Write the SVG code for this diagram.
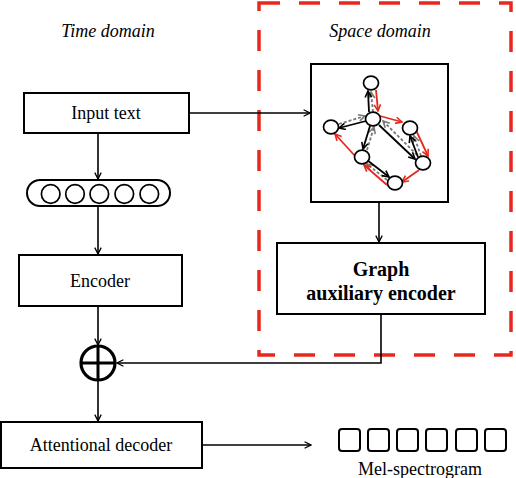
<svg xmlns="http://www.w3.org/2000/svg" width="516" height="478" viewBox="0 0 516 478">
<defs>
<marker id="ab" viewBox="0 0 10 10" refX="9" refY="5" markerWidth="8" markerHeight="8" markerUnits="userSpaceOnUse" orient="auto"><path d="M1,1 L9,5 L1,9" fill="none" stroke="#000" stroke-width="1.6"/></marker>
<marker id="gb" viewBox="0 0 10 10" refX="9" refY="5" markerWidth="8" markerHeight="8" markerUnits="userSpaceOnUse" orient="auto"><path d="M1,1 L9,5 L1,9" fill="none" stroke="#000" stroke-width="2"/></marker>
<marker id="gr" viewBox="0 0 10 10" refX="9" refY="5" markerWidth="8" markerHeight="8" markerUnits="userSpaceOnUse" orient="auto"><path d="M1,1 L9,5 L1,9" fill="none" stroke="#e8281c" stroke-width="2"/></marker>
<marker id="gg" viewBox="0 0 10 10" refX="9" refY="5" markerWidth="8" markerHeight="8" markerUnits="userSpaceOnUse" orient="auto"><path d="M1,1 L9,5 L1,9" fill="none" stroke="#777" stroke-width="2"/></marker>
</defs>
<style>
.box{fill:#fff;stroke:#000;stroke-width:2}
.t{font-family:"Liberation Serif","Times New Roman",serif;font-size:18px;fill:#000;text-anchor:middle}
.it{font-style:italic}
.b{font-weight:bold;font-size:20px}
.con{fill:none;stroke:#000;stroke-width:1.6}
.gn{fill:#fff;stroke:#000;stroke-width:1.7}
.eb{stroke:#000;stroke-width:1.8;fill:none;marker-end:url(#gb)}
.er{stroke:#e8281c;stroke-width:1.8;fill:none;marker-end:url(#gr)}
.eg{stroke:#777;stroke-width:1.8;stroke-dasharray:3 2;fill:none;marker-end:url(#gg)}
</style>

<g id="space-domain-frame">
<rect x="259" y="3" width="252" height="352" fill="none" stroke="#e8281c" stroke-width="3.5" stroke-dasharray="21 19"/>
</g>

<g id="labels">
<text class="t it" x="108" y="37">Time domain</text>
<text class="t it" x="380" y="37">Space domain</text>
</g>

<g id="connectors">
<path class="con" d="M189,113 H310" marker-end="url(#ab)"/>
<path class="con" d="M98,133 V179" marker-end="url(#ab)"/>
<path class="con" d="M98,206 V254" marker-end="url(#ab)"/>
<path class="con" d="M98,306 V345" marker-end="url(#ab)"/>
<path class="con" d="M379,202 V242" marker-end="url(#ab)"/>
<path class="con" d="M381,314 V363 H117" marker-end="url(#ab)"/>
<path class="con" d="M98,381 V421" marker-end="url(#ab)"/>
<path class="con" d="M202,445 H311" marker-end="url(#ab)"/>
</g>

<g id="input-text">
<rect class="box" x="24" y="93" width="165" height="40"/>
<text class="t" x="106" y="119">Input text</text>
</g>

<g id="embedding">
<rect class="box" x="27" y="180" width="143" height="26" rx="13"/>
<circle class="gn" cx="50.7" cy="194" r="9.3"/>
<circle class="gn" cx="75" cy="194" r="9.3"/>
<circle class="gn" cx="99.3" cy="194" r="9.3"/>
<circle class="gn" cx="124.3" cy="194" r="9.3"/>
<circle class="gn" cx="149.3" cy="194" r="9.3"/>
</g>

<g id="encoder">
<rect class="box" x="19" y="255" width="163" height="51"/>
<text class="t" x="100" y="287">Encoder</text>
</g>

<g id="oplus">
<circle cx="98" cy="363" r="17" fill="#fff" stroke="#000" stroke-width="3.2"/>
<path d="M81,363 H115 M98,346 V380" stroke="#000" stroke-width="3"/>
</g>

<g id="attentional-decoder">
<rect class="box" x="1" y="422" width="201" height="46"/>
<text class="t" x="101" y="451">Attentional decoder</text>
</g>

<g id="mel-spectrogram">
<rect class="box" x="339" y="429" width="21" height="22" rx="3"/>
<rect class="box" x="368" y="429" width="21" height="22" rx="3"/>
<rect class="box" x="397" y="429" width="21" height="22" rx="3"/>
<rect class="box" x="426" y="429" width="21" height="22" rx="3"/>
<rect class="box" x="456" y="429" width="21" height="22" rx="3"/>
<rect class="box" x="485" y="429" width="21" height="22" rx="3"/>
<text class="t" x="420" y="475">Mel-spectrogram</text>
</g>

<g id="graph-auxiliary-encoder">
<rect class="box" x="277" y="243" width="208" height="71"/>
<text class="t b" x="381" y="276">Graph</text>
<text class="t b" x="381" y="300">auxiliary encoder</text>
</g>

<g id="graph">
<rect class="box" x="311" y="64" width="137" height="138"/>
<g id="graph-edges">
<path class="eg" d="M373,112 L371,92"/>
<path class="eb" d="M369,112 L368,91"/>
<path class="er" d="M376,90 L378,111"/>
<path class="eg" d="M339,124 L365,116"/>
<path class="eb" d="M366,121 L339,128"/>
<path class="er" d="M380,116 L402,122"/>
<path class="eg" d="M417,155 L383,121"/>
<path class="eb" d="M379,125 L415,159"/>
<path class="eg" d="M367,150 L374,127"/>
<path class="eb" d="M370,126 L363,149"/>
<path class="eg" d="M421,156 L414,136"/>
<path class="eb" d="M418,157 L410,136"/>
<path class="er" d="M415,128 L428,156"/>
<path class="er" d="M419,170 L402,182"/>
<path class="eg" d="M387,180 L367,164"/>
<path class="eb" d="M367,160 L389,177"/>
<path class="er" d="M387,185 L364,165"/>
<path class="er" d="M355,156 L335,134"/>
</g>
<g id="graph-nodes">
<ellipse class="gn" cx="371" cy="83" rx="7.5" ry="6.8"/>
<ellipse class="gn" cx="373" cy="119" rx="7.5" ry="6.8"/>
<ellipse class="gn" cx="331" cy="127" rx="7.5" ry="6.8"/>
<ellipse class="gn" cx="410" cy="128" rx="7.5" ry="6.8"/>
<ellipse class="gn" cx="362" cy="157" rx="7.5" ry="6.8"/>
<ellipse class="gn" cx="423" cy="163" rx="7.5" ry="6.8"/>
<ellipse class="gn" cx="395" cy="183" rx="7.5" ry="6.8"/>
</g>
</g>
</svg>
